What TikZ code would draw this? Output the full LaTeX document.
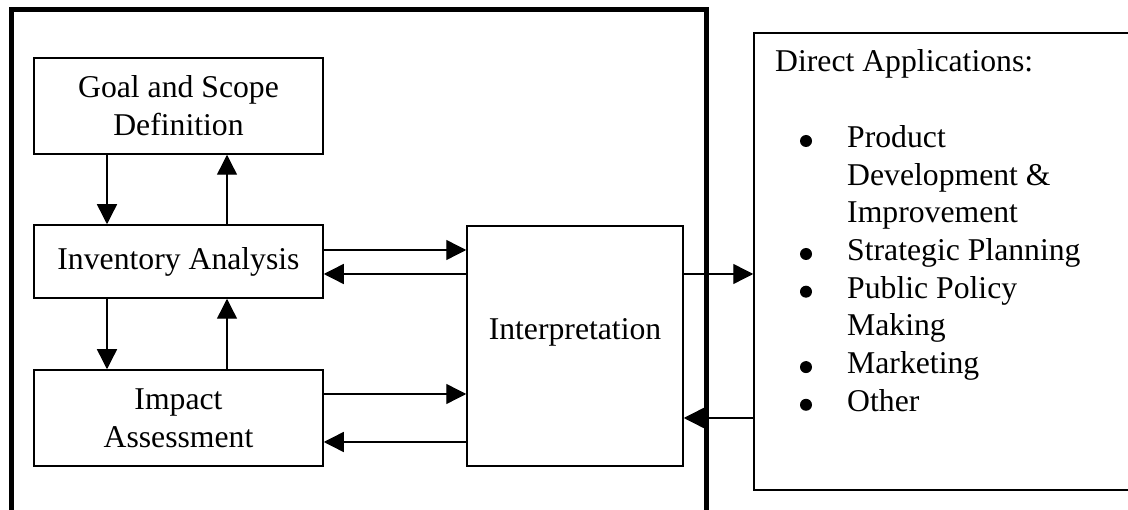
\documentclass[tikz,border=0pt]{standalone}
\usepackage{fontspec}
\setmainfont{Liberation Serif}
\usetikzlibrary{arrows.meta}
\begin{document}
\begin{tikzpicture}[x=1pt,y=-1pt,
  txt/.style={font=\fontsize{31.7}{37.7}\selectfont},
  box/.style={draw, line width=1.5pt, inner sep=0pt, align=center, txt},
  arr/.style={line width=1.4pt, -{Triangle[length=20pt,width=20pt]}},
  frameline/.style={line width=4.5pt},
  dot/.style={fill=black}]
\useasboundingbox (0,0) rectangle (1128,510);
% outer frame (open at bottom)
\draw[frameline] (11.7,530) -- (11.7,9.3) -- (706.3,9.3) -- (706.3,530);
% boxes
\node[box, minimum width=289pt, minimum height=96pt] (goal) at (178.5,106) {Goal and Scope\\Definition};
\node[box, minimum width=289pt, minimum height=73pt] (inv) at (178.5,261.5) {Inventory Analysis};
\node[box, minimum width=289pt, minimum height=96pt] (imp) at (178.5,418) {Impact\\Assessment};
\node[box, minimum width=216pt, minimum height=240pt, text height=21.5pt, text depth=34.5pt] (interp) at (575,346) {Interpretation};
\node[draw, line width=1.5pt, minimum width=386pt, minimum height=457pt, inner sep=0pt] (direct) at (947,261.5) {};
\node[txt, anchor=base west, inner sep=0pt] (dtext) at (775,72) {%
\begin{tabular}[t]{@{}l@{}}
Direct Applications:\\[37.7pt]
\makebox[72pt][l]{}Product\\
\makebox[72pt][l]{}Development \&\\
\makebox[72pt][l]{}Improvement\\
\makebox[72pt][l]{}Strategic Planning\\
\makebox[72pt][l]{}Public Policy\\
\makebox[72pt][l]{}Making\\
\makebox[72pt][l]{}Marketing\\
\makebox[72pt][l]{}Other
\end{tabular}};
% bullets
\fill[dot] (806,141) circle (6pt);
\fill[dot] (806,254) circle (6pt);
\fill[dot] (806,291.7) circle (6pt);
\fill[dot] (806,367.1) circle (6pt);
\fill[dot] (806,404.8) circle (6pt);
% helper coordinates
\coordinate (xa) at (107,0);
\coordinate (xb) at (227,0);
\coordinate (ya) at (0,250);
\coordinate (yb) at (0,274);
\coordinate (yc) at (0,394);
\coordinate (yd) at (0,442);
\coordinate (ye) at (0,418);
% arrows
\draw[arr] (goal.south -| xa) -- (inv.north -| xa);
\draw[arr] (inv.north -| xb) -- (goal.south -| xb);
\draw[arr] (inv.south -| xa) -- (imp.north -| xa);
\draw[arr] (imp.north -| xb) -- (inv.south -| xb);
\draw[arr] (inv.east |- ya) -- (interp.west |- ya);
\draw[arr] (interp.west |- yb) -- (inv.east |- yb);
\draw[arr] (imp.east |- yc) -- (interp.west |- yc);
\draw[arr] (interp.west |- yd) -- (imp.east |- yd);
\draw[arr] (interp.east |- yb) -- (direct.west |- yb);
\draw[arr] (direct.west |- ye) -- (interp.east |- ye);
\end{tikzpicture}
\end{document}
